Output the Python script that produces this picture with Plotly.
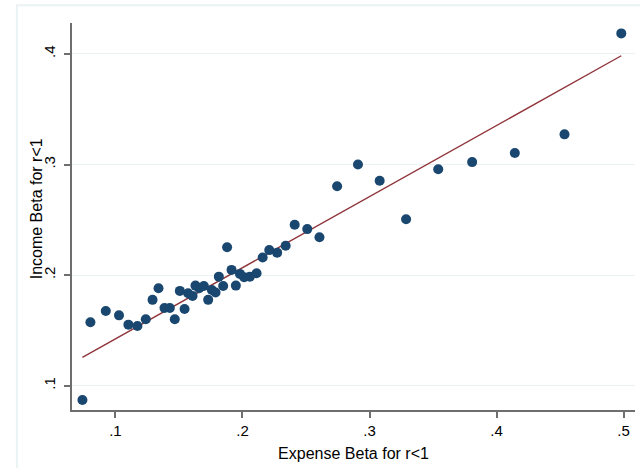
import numpy as np
import plotly.graph_objects as go

expense_beta = [0.0740, 0.0803, 0.0924, 0.1028, 0.1102, 0.1173, 0.1239, 0.1292, 0.1339, 0.1386,
                0.1428, 0.1467, 0.1507, 0.1544, 0.1572, 0.1607, 0.1630, 0.1659, 0.1696, 0.1730,
                0.1759, 0.1788, 0.1814, 0.1848, 0.1879, 0.1914, 0.1948, 0.1980, 0.2013, 0.2058,
                0.2111, 0.2159, 0.2211, 0.2273, 0.2340, 0.2411, 0.2510, 0.2606, 0.2745, 0.2909,
                0.3080, 0.3288, 0.3541, 0.3808, 0.4144, 0.4535, 0.4982]
income_beta = [0.0871, 0.1574, 0.1676, 0.1636, 0.1552, 0.1540, 0.1601, 0.1776, 0.1881, 0.1703,
               0.1703, 0.1601, 0.1857, 0.1694, 0.1836, 0.1812, 0.1905, 0.1881, 0.1902, 0.1776,
               0.1866, 0.1842, 0.1986, 0.1902, 0.2252, 0.2047, 0.1905, 0.2011, 0.1981, 0.1986,
               0.2017, 0.2159, 0.2226, 0.2203, 0.2266, 0.2456, 0.2416, 0.2343, 0.2804, 0.3001,
               0.2853, 0.2505, 0.2957, 0.3022, 0.3105, 0.3273, 0.4186]

# fitted line parameters
fit_intercept = 0.0781
fit_slope = 0.6429

x_ticks = [0.1, 0.2, 0.3, 0.4, 0.5]
x_tick_labels = [".1", ".2", ".3", ".4", ".5"]
y_ticks = [0.1, 0.2, 0.3, 0.4]
y_tick_labels = [".1", ".2", ".3", ".4"]
x_title = "Expense Beta for r<1"
y_title = "Income Beta for r<1"

x = np.array(expense_beta)
fit_x = np.array([x.min(), x.max()])
fit_y = fit_intercept + fit_slope * fit_x

navy = "#1a476f"
maroon = "#90353b"
font = "Liberation Sans, Arial, sans-serif"

fig = go.Figure()
fig.add_trace(go.Scatter(x=fit_x, y=fit_y, mode="lines",
                         line=dict(color=maroon, width=1.4), showlegend=False))
fig.add_trace(go.Scatter(x=expense_beta, y=income_beta, mode="markers",
                         marker=dict(color=navy, size=10, line=dict(width=0)),
                         showlegend=False, hoverinfo="x+y"))

fig.update_layout(
    width=640, height=468,
    margin=dict(l=72, r=5, t=23, b=58),
    paper_bgcolor="white", plot_bgcolor="white",
    font=dict(family=font, size=15, color="#000000"),
    xaxis=dict(range=[0.0658, 0.509], tickvals=x_ticks, ticktext=x_tick_labels,
               showgrid=False, zeroline=False, showline=True, linecolor="#6e6e6e", linewidth=1.5,
               ticks="outside", ticklen=6, tickcolor="#6e6e6e", tickwidth=1.5,
               tickfont=dict(size=15),
               title=dict(text=x_title, standoff=10, font=dict(size=16))),
    yaxis=dict(range=[0.078, 0.428], tickvals=y_ticks, ticktext=y_tick_labels, tickangle=-90,
               showgrid=True, gridcolor="#eaf2f3", gridwidth=1.2, zeroline=False,
               showline=True, linecolor="#6e6e6e", linewidth=1.5,
               ticks="outside", ticklen=6, tickcolor="#6e6e6e", tickwidth=1.5,
               tickfont=dict(size=15), ticklabelstandoff=3),
    annotations=[dict(text=y_title, xref="paper", yref="paper", x=-0.063, y=0.52,
                      xanchor="center", yanchor="middle", textangle=-90, showarrow=False,
                      font=dict(size=16))],
    shapes=[dict(type="rect", xref="paper", yref="paper", x0=-0.098, x1=1.2, y0=-0.3, y1=1.046,
                 line=dict(color="#eaf2f3", width=2), layer="below")],
)

fig.write_html("out.html")
